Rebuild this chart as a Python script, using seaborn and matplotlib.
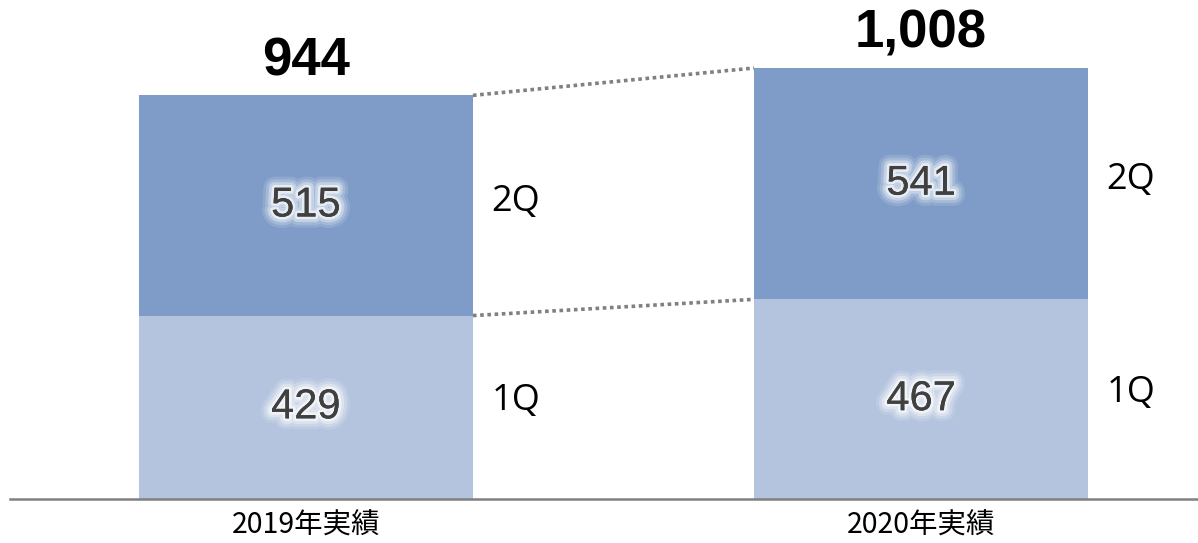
import pandas as pd
import seaborn as sns
import matplotlib.pyplot as plt
import matplotlib.patheffects as pe

# values
years = ['2019年実績', '2020年実績']
q1 = [429, 467]
q2 = [515, 541]
totals = [a + b for a, b in zip(q1, q2)]

dark = '#7F9CC8'
light = '#B4C4DE'
bar_w = 0.543

sns.set_theme(style='white')
plt.rcParams['font.family'] = ['Liberation Sans', 'DejaVu Sans']

df = pd.DataFrame({'year': years, 'q1': q1, 'q2': q2, 'total': totals})

fig = plt.figure(figsize=(11.98, 5.43), dpi=100)
ax = fig.add_axes([10 / 1198, 44 / 543, 1 - 10 / 1198, 1 - 44 / 543])

# stacked bars: total first, then 1Q on top of it
sns.barplot(data=df, x='year', y='total', color=dark, width=bar_w,
            saturation=1, linewidth=0, ax=ax)
sns.barplot(data=df, x='year', y='q1', color=light, width=bar_w,
            saturation=1, linewidth=0, ax=ax)

ax.set_xlim(-0.481, 1.450)
ax.set_ylim(0, 1167)

# soft white glow behind the segment numbers
glow = [pe.withStroke(linewidth=16, foreground='white', alpha=0.12),
        pe.withStroke(linewidth=12, foreground='white', alpha=0.2),
        pe.withStroke(linewidth=8, foreground='white', alpha=0.35),
        pe.withStroke(linewidth=4, foreground='white', alpha=0.6),
        pe.Normal()]

qfont = ['Open Sans', 'DejaVu Sans']
for i in range(len(years)):
    # segment values
    ax.text(i, q1[i] / 2, f'{q1[i]}', ha='center', va='center',
            fontsize=30, color='#404040', path_effects=glow)
    ax.text(i, q1[i] + q2[i] / 2, f'{q2[i]}', ha='center', va='center',
            fontsize=30, color='#404040', path_effects=glow)
    # total on top
    ax.text(i, totals[i] + 80, f'{totals[i]:,}', ha='center', va='center',
            fontsize=38, fontweight='bold', color='black')
    # series names beside the bars
    xr = i + bar_w / 2 + 0.03
    ax.text(xr, q1[i] / 2 + 15, '1Q', ha='left', va='center',
            fontsize=26, color='black', family=qfont)
    ax.text(xr, q1[i] + q2[i] / 2 + 8, '2Q', ha='left', va='center',
            fontsize=26, color='black', family=qfont)

# dotted connectors between bars
x0 = 0 + bar_w / 2
x1 = 1 - bar_w / 2
ax.plot([x0, x1], [totals[0], totals[1]], color='#808080', lw=2.6,
        linestyle=(0, (1, 1)))
ax.plot([x0, x1], [q1[0], q1[1]], color='#808080', lw=2.6,
        linestyle=(0, (1, 1)))

ax.set_xlabel('')
ax.set_ylabel('')
ax.set_yticks([])
for s in ['top', 'right', 'left']:
    ax.spines[s].set_visible(False)
ax.spines['bottom'].set_color('#808080')
ax.spines['bottom'].set_linewidth(1.8)
ax.tick_params(axis='x', length=0, pad=8)
ax.set_xticks(range(len(years)))
ax.set_xticklabels(years, fontsize=20.5, color='black',
                   family=['Noto Sans CJK JP', 'DejaVu Sans'])

fig.savefig('out.png', dpi=100)
